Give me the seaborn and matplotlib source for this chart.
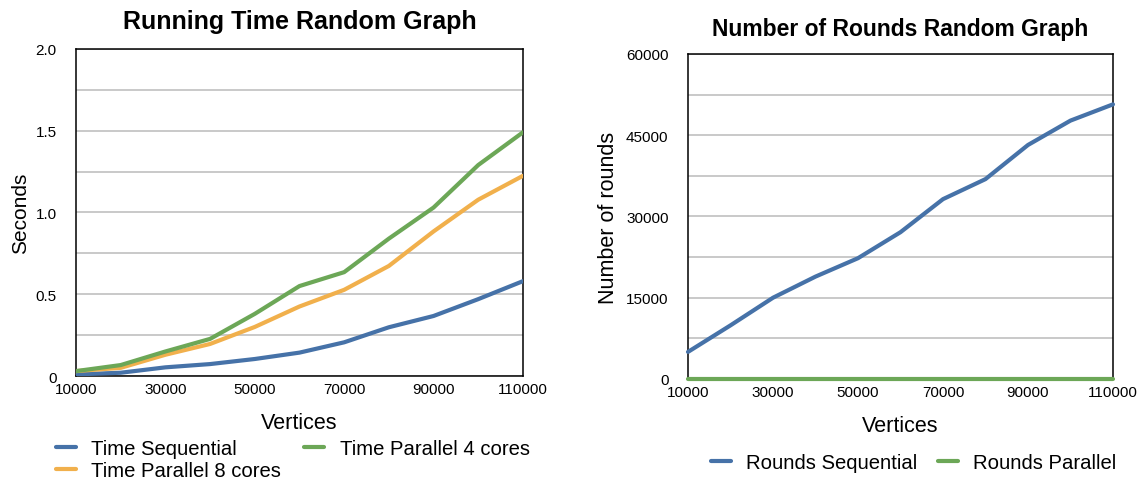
import numpy as np
import pandas as pd
import matplotlib
matplotlib.use("Agg")
import matplotlib.pyplot as plt
from matplotlib.ticker import FixedLocator, FuncFormatter
import seaborn as sns

# Benchmark data: random graphs of increasing size
vertices = [10000, 20000, 30000, 40000, 50000, 60000, 70000, 80000, 90000, 100000, 110000]

time_sequential = [0.01, 0.02, 0.053, 0.073, 0.104, 0.143, 0.206, 0.298, 0.367, 0.47, 0.58]
time_parallel_8 = [0.03, 0.05, 0.13, 0.196, 0.30, 0.425, 0.527, 0.673, 0.884, 1.078, 1.224]
time_parallel_4 = [0.03, 0.067, 0.15, 0.227, 0.38, 0.55, 0.635, 0.84, 1.03, 1.29, 1.49]

rounds_sequential = [5000, 9900, 15000, 18900, 22300, 27100, 33200, 36900, 43200, 47700, 50700]
rounds_parallel = [0, 0, 0, 0, 0, 0, 0, 0, 0, 0, 0]

x_ticks = [10000, 30000, 50000, 70000, 90000, 110000]
time_ticks = [0, 0.5, 1.0, 1.5, 2.0]
time_tick_labels = ["0", "0.5", "1.0", "1.5", "2.0"]
round_ticks = [0, 15000, 30000, 45000, 60000]

BLUE = "#4672a8"
ORANGE = "#f1b04c"
GREEN = "#6ca757"

sns.set_style("white")
plt.rcParams["font.family"] = ["Liberation Sans", "DejaVu Sans"]
plt.rcParams["text.color"] = "black"
plt.rcParams["axes.labelcolor"] = "black"
plt.rcParams["xtick.color"] = "black"
plt.rcParams["ytick.color"] = "black"

time_df = pd.DataFrame({
    "Vertices": vertices * 3,
    "Seconds": time_sequential + time_parallel_8 + time_parallel_4,
    "Series": (["Time Sequential"] * len(vertices)
               + ["Time Parallel 8 cores"] * len(vertices)
               + ["Time Parallel 4 cores"] * len(vertices)),
})
rounds_df = pd.DataFrame({
    "Vertices": vertices * 2,
    "Rounds": rounds_sequential + rounds_parallel,
    "Series": (["Rounds Sequential"] * len(vertices)
               + ["Rounds Parallel"] * len(vertices)),
})

fig = plt.figure(figsize=(11.4, 4.81), dpi=100)
ax1 = fig.add_axes([0.0667, 0.2162, 0.392, 0.680])
ax2 = fig.add_axes([0.6035, 0.210, 0.3728, 0.6757])


def style_axes(ax, major, minor):
    ax.yaxis.set_major_locator(FixedLocator(major))
    ax.yaxis.set_minor_locator(FixedLocator(minor))
    ax.xaxis.set_major_locator(FixedLocator(x_ticks))
    ax.grid(False)
    ax.yaxis.grid(True, which="both", color="#c9c9c9", linewidth=1.4)
    ax.set_axisbelow(True)
    ax.tick_params(axis="x", which="both", length=0, labelsize=11, pad=4)
    ax.tick_params(axis="y", which="both", length=0, labelsize=11, pad=14)
    for sp in ax.spines.values():
        sp.set_visible(True)
        sp.set_color("black")
        sp.set_linewidth(1.1)
        sp.set_zorder(2)
    ax.set_xlim(10000, 110000)
    for ln in ax.get_lines():
        ln.set_zorder(3)


legend_kw = dict(frameon=False, fontsize=14.6, handlelength=1.0, handletextpad=0.75,
                 borderpad=0, borderaxespad=0)

# Running time panel
sns.lineplot(data=time_df, x="Vertices", y="Seconds", hue="Series",
             palette={"Time Sequential": BLUE, "Time Parallel 8 cores": ORANGE,
                      "Time Parallel 4 cores": GREEN},
             hue_order=["Time Sequential", "Time Parallel 8 cores", "Time Parallel 4 cores"],
             linewidth=3.0, ax=ax1, legend=True)
ax1.set_ylim(0, 2.0)
style_axes(ax1, time_ticks, [0.25, 0.75, 1.25, 1.75])
ax1.yaxis.set_major_formatter(FuncFormatter(lambda v, p: time_tick_labels[time_ticks.index(round(v, 2))]))
ax1.xaxis.set_major_formatter(FuncFormatter(lambda v, p: f"{int(v)}"))
ax1.set_xlabel("Vertices", fontsize=15.5, labelpad=12)
ax1.set_ylabel("Seconds", fontsize=15, labelpad=4)
ax1.set_title("Running Time Random Graph", fontsize=18, fontweight="bold", pad=15)
h, l = ax1.get_legend_handles_labels()
for hh in h:
    hh.set_linewidth(3)
ax1.legend(h, l, ncol=2, loc="upper left", bbox_to_anchor=(-0.045, -0.192),
           columnspacing=1.13, labelspacing=0.14, **legend_kw)

# Rounds panel
sns.lineplot(data=rounds_df, x="Vertices", y="Rounds", hue="Series",
             palette={"Rounds Sequential": BLUE, "Rounds Parallel": GREEN},
             linewidth=3.0, ax=ax2, legend=True, clip_on=False)
ax2.set_ylim(0, 60000)
style_axes(ax2, round_ticks, [7500, 22500, 37500, 52500])
ax2.yaxis.set_major_formatter(FuncFormatter(lambda v, p: f"{int(v)}"))
ax2.xaxis.set_major_formatter(FuncFormatter(lambda v, p: f"{int(v)}"))
ax2.set_xlabel("Vertices", fontsize=15.5, labelpad=11.5)
ax2.set_ylabel("Number of rounds", fontsize=15.5, labelpad=5)
ax2.set_title("Number of Rounds Random Graph", fontsize=16.5, fontweight="bold", pad=14)
h, l = ax2.get_legend_handles_labels()
for hh in h:
    hh.set_linewidth(3)
ax2.legend(h, l, ncol=2, loc="upper left", bbox_to_anchor=(0.054, -0.228),
           columnspacing=1.0, **legend_kw)

fig.savefig("out.png", dpi=100)
